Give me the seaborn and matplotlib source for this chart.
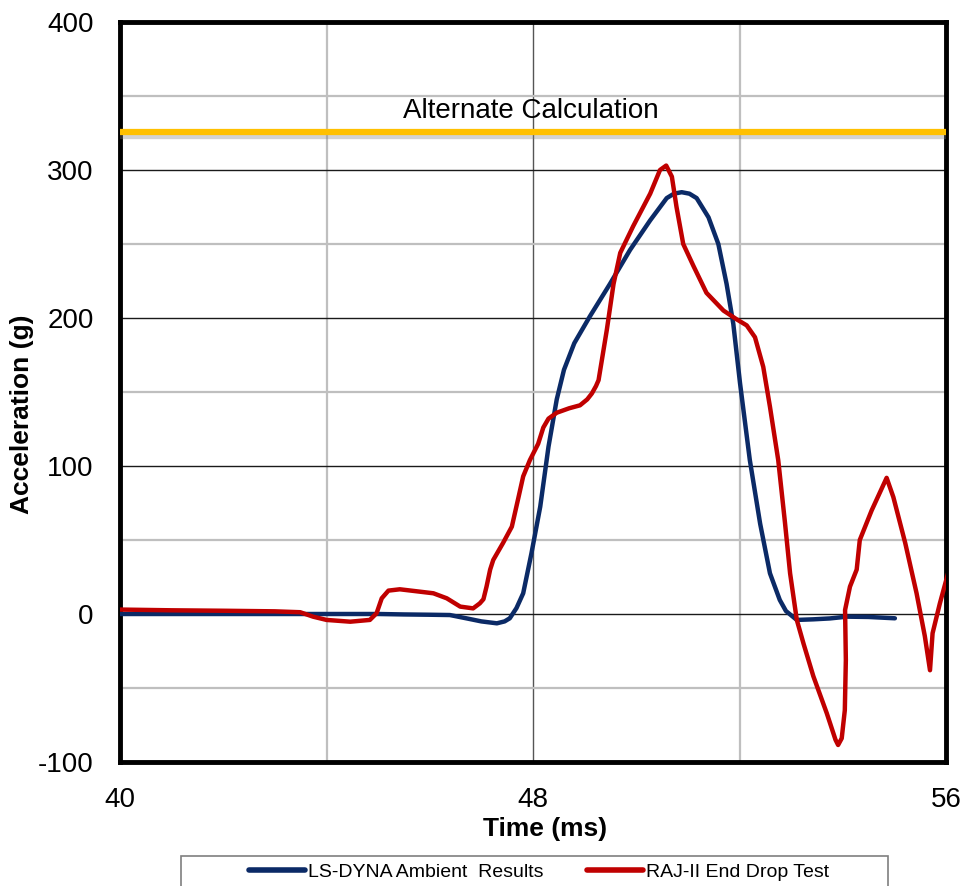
import numpy as np
import pandas as pd
import matplotlib
matplotlib.use("Agg")
import matplotlib.pyplot as plt
import matplotlib.patheffects as pe
from matplotlib.patches import Rectangle
from matplotlib.lines import Line2D
import seaborn as sns

# ---- data ----
dyna_t = [40, 41, 42, 43, 44, 45, 45.5, 46.0, 46.39, 46.72, 47.0, 47.30, 47.45, 47.55,
          47.68, 47.81, 47.97, 48.14, 48.30, 48.46, 48.6, 48.8, 49.10, 49.49, 49.88,
          50.27, 50.59, 50.73, 50.88, 51.03, 51.17, 51.40, 51.59, 51.75, 51.88, 52.01,
          52.20, 52.40, 52.59, 52.78, 52.90, 53.11, 53.43, 53.75, 54.08, 54.5, 55.01]
dyna_g = [0, 0, 0, 0, 0, 0, -0.3, -0.5, -0.7, -3, -5, -6.3, -5, -2.9,
          4, 14, 41, 72.5, 113, 145, 165, 183, 201, 223, 246,
          266, 281, 284, 285, 284, 281, 268, 250, 223, 196, 156,
          104, 61, 27.5, 9.5, 2, -4, -3.6, -3, -1.8, -2, -2.9]

raj_t = [40, 41, 42, 43, 43.49, 43.74, 44.0, 44.46, 44.84, 44.97, 45.07, 45.20, 45.42,
         46.07, 46.33, 46.59, 46.84, 46.97, 47.04, 47.10, 47.17, 47.23, 47.42, 47.59,
         47.72, 47.81, 47.94, 48.10, 48.2, 48.3, 48.46, 48.7, 48.91, 49.05, 49.14, 49.22,
         49.27, 49.35, 49.43, 49.56, 49.69, 49.94, 50.27, 50.46, 50.58, 50.69, 50.78,
         50.91, 51.11, 51.36, 51.69, 51.95, 52.14, 52.30, 52.46, 52.59, 52.75, 52.88,
         52.98, 53.11, 53.24, 53.43, 53.69, 53.86, 53.91, 53.98, 54.04, 54.06, 54.045,
         54.14, 54.27, 54.33, 54.56, 54.85, 54.98, 55.21, 55.43, 55.59, 55.69, 55.74,
         55.88, 56.04]
raj_g = [3, 2.5, 2.2, 1.8, 1.2, -1.8, -4, -5.2, -4, 0.5, 10.6, 15.8, 16.7,
         14, 10.6, 5, 3.8, 7.2, 10, 18.5, 30, 36.5, 48, 59,
         79, 93, 104, 115, 126, 132, 136, 139, 141, 145, 149, 154,
         158, 175, 192, 223, 244, 262, 284, 300, 303, 295.5, 275,
         250, 235, 217, 205, 199, 195, 187, 167, 140, 104, 62,
         27.5, -4, -20, -42, -67, -85, -88.5, -84, -65, -31, 2.7,
         18.5, 30, 50, 70, 92, 79, 48, 14, -15, -38, -13,
         7, 27.5]

alt_value = 326
alt_label = "Alternate Calculation"
series_names = ["LS-DYNA Ambient  Results", "RAJ-II End Drop Test"]
x_ticks = [40, 48, 56]
y_ticks = [-100, 0, 100, 200, 300, 400]

df = pd.concat([
    pd.DataFrame({"t": dyna_t, "g": dyna_g, "s": series_names[0]}),
    pd.DataFrame({"t": raj_t, "g": raj_g, "s": series_names[1]}),
])

# ---- style ----
sns.set_style("white")
plt.rcParams["font.family"] = ["Liberation Sans", "DejaVu Sans"]
plt.rcParams["axes.unicode_minus"] = False
plt.rcParams["text.color"] = "black"
plt.rcParams["axes.labelcolor"] = "black"

W, H = 966, 886
fig = plt.figure(figsize=(W / 100, H / 100), dpi=100)
ax = fig.add_axes([120 / W, 1 - 762 / H, 826 / W, 740 / H])

colors = {series_names[0]: "#0B2A66", series_names[1]: "#C00000"}

ax.set_xlim(40, 56)
ax.set_ylim(-100, 400)
ax.set_xticks(x_ticks)
ax.set_xticks([44, 52], minor=True)
ax.set_yticks(y_ticks)
ax.set_yticks([-50, 50, 150, 250, 350], minor=True)

ax.grid(which="major", axis="y", color="#1a1a1a", lw=1.0, zorder=0)
ax.grid(which="minor", axis="y", color="#BFBFBF", lw=1.6, zorder=0)
ax.grid(which="major", axis="x", color="#555555", lw=1.0, zorder=0)
ax.grid(which="minor", axis="x", color="#BFBFBF", lw=1.6, zorder=0)
ax.set_axisbelow(True)

# alternate calculation line with a soft shadow
ax.axhline(alt_value, color="#FFC000", lw=4.5, zorder=3,
           path_effects=[pe.SimpleLineShadow(offset=(0, -2.5), shadow_color="gray", alpha=0.35, linewidth=6),
                         pe.Normal()])
ax.text(47.95, 340, alt_label, ha="center", va="center", fontsize=20, color="black", zorder=4)

for name in series_names:
    sub = df[df["s"] == name]
    sns.lineplot(data=sub, x="t", y="g", sort=False, estimator=None, ax=ax,
                 color=colors[name], lw=3.2, zorder=5, legend=False)
for ln in ax.lines:
    ln.set_solid_capstyle("round")
    ln.set_solid_joinstyle("round")

for sp in ax.spines.values():
    sp.set_visible(True)
    sp.set_color("black")
    sp.set_linewidth(3.5)

ax.tick_params(which="major", direction="out", length=7, width=1.2, color="#444444",
               labelsize=20, labelcolor="black")
ax.tick_params(axis="y", which="major", pad=12)
ax.tick_params(axis="x", which="major", pad=11)
ax.tick_params(which="minor", direction="in", length=5, width=1.2, color="#444444")

ax.set_xlabel("Time (ms)", fontsize=19, fontweight="bold", color="black")
ax.set_ylabel("Acceleration (g)", fontsize=19, fontweight="bold", color="black")
ax.xaxis.set_label_coords((545 - 120) / 826, (762 - 829) / 740)
ax.xaxis.label.set_va("center")
ax.yaxis.set_label_coords((22 - 120) / 826, (762 - 414) / 740)
ax.yaxis.label.set_va("center")
ax.yaxis.label.set_ha("center")

# legend box (cut by bottom edge as in the reference)
fig.patches.append(Rectangle((181 / W, -0.02), 707 / W, (886 - 856) / H + 0.02,
                             transform=fig.transFigure, fill=False,
                             edgecolor="#7f7f7f", lw=1.2))
handles = [Line2D([0], [0], color=colors[n], lw=4, solid_capstyle="round") for n in series_names]
leg = fig.legend(handles, series_names, loc="center", bbox_to_anchor=(539 / W, 1 - 872 / H),
                 ncol=2, frameon=False, fontsize=14, handlelength=2.9, handletextpad=0.15,
                 columnspacing=2.2)
for txt in leg.get_texts():
    txt.set_color("black")

fig.savefig("out.png", dpi=100)
